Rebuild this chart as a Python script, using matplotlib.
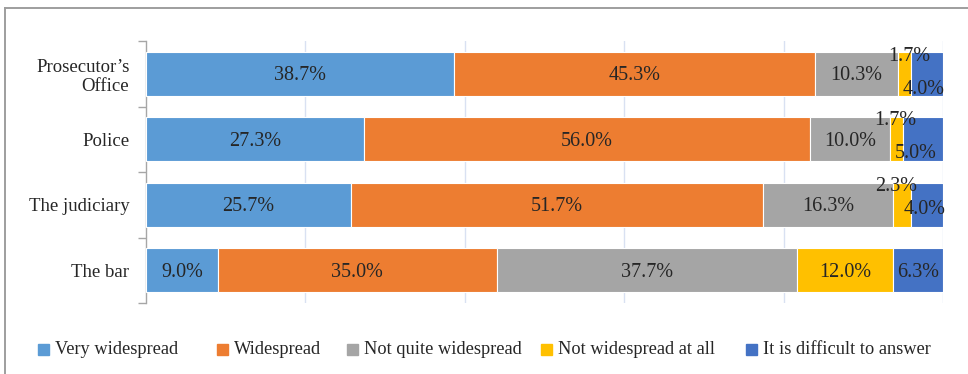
import matplotlib
matplotlib.use("Agg")
import matplotlib.pyplot as plt
from matplotlib.lines import Line2D
from matplotlib.patches import Rectangle

plt.rcParams["font.family"] = ["Liberation Serif", "DejaVu Serif"]

# ── data ──────────────────────────────────────────────────────────────
institutions = ["Prosecutor\u2019s\nOffice", "Police", "The judiciary", "The bar"]
series_names = ["Very widespread", "Widespread", "Not quite widespread",
                "Not widespread at all", "It is difficult to answer"]
very_widespread = [38.7, 27.3, 25.7, 9.0]
widespread = [45.3, 56.0, 51.7, 35.0]
not_quite = [10.3, 10.0, 16.3, 37.7]
not_at_all = [1.7, 1.7, 2.3, 12.0]
hard_to_say = [4.0, 5.0, 4.0, 6.3]

colors = ["#5B9BD5", "#ED7D31", "#A5A5A5", "#FFC000", "#4472C4"]
TEXT = "#262626"

# label nudges (pixels) for the thin segments that would overlap
nudges = {
    (0, 3): (5, 19), (0, 4): (-3, -14),
    (1, 3): (-1, 21), (1, 4): (-7, -12),
    (2, 3): (-6, 20), (2, 4): (-2, -3),
}

W, H = 968, 374
fig = plt.figure(figsize=(W / 100, H / 100), dpi=100)

ax = fig.add_axes([146 / W, 1 - 303 / H, (943 - 146) / W, (303 - 41) / H])

values = [very_widespread, widespread, not_quite, not_at_all, hard_to_say]
ypos = list(range(len(institutions)))
left = [0.0] * len(institutions)
for s, (vals, col) in enumerate(zip(values, colors)):
    bars = ax.barh(ypos, vals, left=left, height=0.67, color=col,
                   edgecolor="white", linewidth=0.8, zorder=3)
    for i, (b, v) in enumerate(zip(bars, vals)):
        dx, dy = nudges.get((i, s), (0, 0))
        ax.annotate(f"{v:.1f}%", (left[i] + v / 2, i),
                    xytext=(dx * 0.72, (dy - 2) * 0.72),
                    textcoords="offset points",
                    ha="center", va="center", fontsize=14.5, color=TEXT,
                    zorder=5)
    left = [l + v for l, v in zip(left, vals)]

ax.set_xlim(0, 100)
ax.set_ylim(3.5, -0.5)
ax.set_xticks([20, 40, 60, 80, 100])
ax.xaxis.grid(True, color="#D9E1F2", linewidth=1.0, zorder=0)
ax.tick_params(axis="x", length=0, labelbottom=False)

ax.set_yticks(ypos)
ax.set_yticklabels(institutions, fontsize=13.5, color=TEXT, linespacing=1.15)
ax.set_yticks([-0.5, 0.5, 1.5, 2.5, 3.5], minor=True)
ax.tick_params(axis="y", which="major", length=0, pad=12)
ax.tick_params(axis="y", which="minor", length=6, color="#A6A6A6", width=1)

for side in ["top", "right", "bottom"]:
    ax.spines[side].set_visible(False)
ax.spines["left"].set_color("#A6A6A6")
ax.spines["left"].set_linewidth(1)

# legend row drawn in figure pixels
legend_x = [38, 217, 347, 541, 746]
ly = 350
for x0, name, col in zip(legend_x, series_names, colors):
    fig.add_artist(Rectangle((x0 / W, 1 - (ly + 5) / H), 11 / W, 11 / H,
                             transform=fig.transFigure, color=col))
    fig.text((x0 + 17) / W, 1 - (ly - 1) / H, name, fontsize=13.2,
             color=TEXT, ha="left", va="center")

# outer frame (top and left edges)
fig.add_artist(Line2D([5 / W, 1], [1 - 8 / H, 1 - 8 / H], color="#9E9E9E",
                      linewidth=1.4, transform=fig.transFigure))
fig.add_artist(Line2D([5 / W, 5 / W], [0, 1 - 8 / H], color="#9E9E9E",
                      linewidth=1.4, transform=fig.transFigure))

fig.savefig("out.png", dpi=100)
